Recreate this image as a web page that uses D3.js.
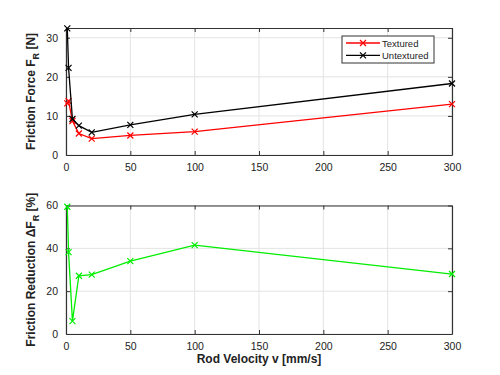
<!DOCTYPE html>
<html>
<head>
<meta charset="utf-8">
<script src="https://cdn.jsdelivr.net/npm/d3@7"></script>
<style>
  body { margin: 0; background: #fff; }
  svg text { font-family: "Liberation Sans", Arial, sans-serif; }
</style>
</head>
<body>
<svg id="chart" width="500" height="375"></svg>
<script>
// data
var velocity = [1, 2, 5, 10, 20, 50, 100, 300];
var textured = [13.2, 13.8, 8.7, 5.5, 4.2, 5.0, 6.0, 13.0];
var untextured = [32.4, 22.3, 9.2, 7.5, 5.8, 7.7, 10.4, 18.3];
var reduction = [59.4, 38.2, 6.0, 27.2, 27.7, 34.0, 41.5, 28.0];
var xTicks = [0, 50, 100, 150, 200, 250, 300];
var topTicks = [0, 10, 20, 30];
var bottomTicks = [0, 20, 40, 60];

var svg = d3.select("#chart");
var left = 66, right = 452;

var x = d3.scaleLinear().domain([0, 300]).range([left, right]);

// draws one matlab-style panel, returns the y scale
function panel(top, bottom, ymax, yTicks, ylabel) {
  var y = d3.scaleLinear().domain([0, ymax]).range([bottom, top]);
  var g = svg.append("g");

  // grid
  g.selectAll(".gx").data(xTicks).enter().append("line")
    .attr("x1", function(d) { return x(d); }).attr("x2", function(d) { return x(d); })
    .attr("y1", top).attr("y2", bottom)
    .attr("stroke", "#e3e3e3").attr("stroke-width", 1);
  g.selectAll(".gy").data(yTicks).enter().append("line")
    .attr("x1", left).attr("x2", right)
    .attr("y1", function(d) { return y(d); }).attr("y2", function(d) { return y(d); })
    .attr("stroke", "#e3e3e3").attr("stroke-width", 1);

  // axes with inward ticks
  g.append("g").attr("transform", "translate(0," + bottom + ")")
    .call(d3.axisBottom(x).tickValues(xTicks).tickSizeInner(-4).tickSizeOuter(0).tickPadding(9))
    .call(style);
  g.append("g").attr("transform", "translate(0," + top + ")")
    .call(d3.axisTop(x).tickValues(xTicks).tickSizeInner(-4).tickSizeOuter(0).tickFormat(""))
    .call(style);
  g.append("g").attr("transform", "translate(" + left + ",0)")
    .call(d3.axisLeft(y).tickValues(yTicks).tickSizeInner(-4).tickSizeOuter(0).tickPadding(8))
    .call(style);
  g.append("g").attr("transform", "translate(" + right + ",0)")
    .call(d3.axisRight(y).tickValues(yTicks).tickSizeInner(-4).tickSizeOuter(0).tickFormat(""))
    .call(style);

  var lab = g.append("text")
    .attr("transform", "translate(35," + ((top + bottom) / 2) + ") rotate(-90)")
    .attr("text-anchor", "middle")
    .attr("font-size", 12).attr("font-weight", "bold").attr("fill", "#222");
  ylabel(lab);
  return y;
}

function style(sel) {
  sel.select(".domain").attr("stroke", "#333").attr("stroke-width", 1.2);
  sel.selectAll(".tick line").attr("stroke", "#333");
  sel.selectAll("text").attr("font-size", 10.5).attr("fill", "#222")
    .attr("font-family", "Liberation Sans, Arial, sans-serif");
}

function series(y, vals, color) {
  var line = d3.line()
    .x(function(d, i) { return x(velocity[i]); })
    .y(function(d) { return y(d); });
  svg.append("path").datum(vals)
    .attr("d", line).attr("fill", "none")
    .attr("stroke", color).attr("stroke-width", 1.3);
  svg.append("g").selectAll("path").data(vals).enter().append("path")
    .attr("transform", function(d, i) { return "translate(" + x(velocity[i]) + "," + y(d) + ")"; })
    .attr("d", "M-3,-3L3,3M-3,3L3,-3")
    .attr("stroke", color).attr("stroke-width", 1.2);
}

var yTop = panel(28, 155, 32.5, topTicks, function(t) {
  t.append("tspan").text("Friction Force F");
  t.append("tspan").attr("font-size", 9).attr("dy", 4).text("R");
  t.append("tspan").attr("dy", -4).text(" [N]");
});
series(yTop, textured, "#ff0000");
series(yTop, untextured, "#000000");

var yBot = panel(205.5, 334, 60, bottomTicks, function(t) {
  t.append("tspan").text("Friction Reduction \u0394F");
  t.append("tspan").attr("font-size", 9).attr("dy", 4).text("R");
  t.append("tspan").attr("dy", -4).text(" [%]");
});
series(yBot, reduction, "#00ee00");

// x label
svg.append("text")
  .attr("x", 259).attr("y", 363)
  .attr("text-anchor", "middle")
  .attr("font-size", 12).attr("font-weight", "bold").attr("fill", "#222")
  .text("Rod Velocity v [mm/s]");

// legend
var names = ["Textured", "Untextured"];
var colors = ["#ff0000", "#000000"];
var lg = svg.append("g");
lg.append("rect").attr("x", 342).attr("y", 36).attr("width", 92).attr("height", 27)
  .attr("fill", "#fff").attr("stroke", "#333").attr("stroke-width", 1);
names.forEach(function(n, i) {
  var cy = 43 + i * 12.3;
  lg.append("line").attr("x1", 346).attr("x2", 380).attr("y1", cy).attr("y2", cy)
    .attr("stroke", colors[i]).attr("stroke-width", 1.3);
  lg.append("path").attr("transform", "translate(363," + cy + ")")
    .attr("d", "M-3,-3L3,3M-3,3L3,-3").attr("stroke", colors[i]).attr("stroke-width", 1.2);
  lg.append("text").attr("x", 382).attr("y", cy + 3.5)
    .attr("font-size", 9.5).attr("fill", "#222").text(n);
});
</script>
</body>
</html>
